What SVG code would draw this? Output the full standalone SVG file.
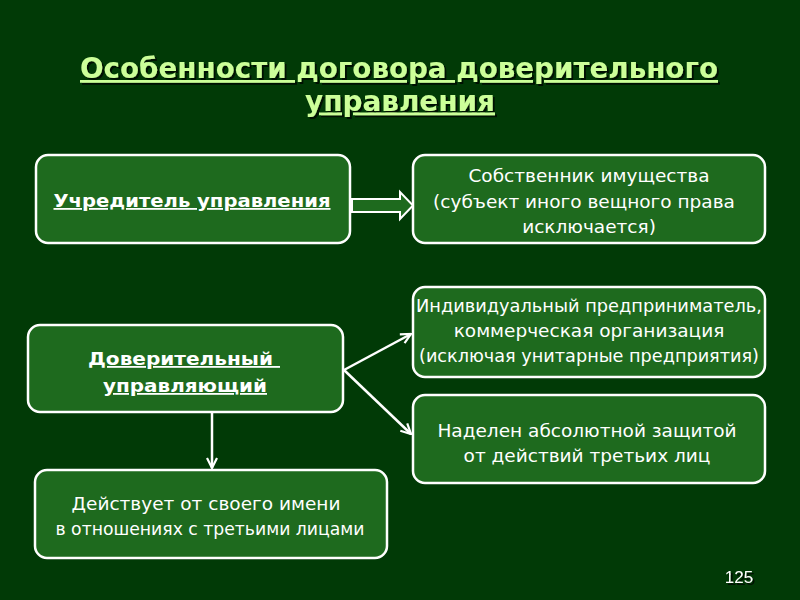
<svg xmlns="http://www.w3.org/2000/svg" width="800" height="600" viewBox="0 0 800 600">
<style>
.box{fill:#1e6a1e;stroke:#ffffff;stroke-width:2.5}
.t{font-family:"DejaVu Sans","Liberation Sans",sans-serif;font-size:18.5px;fill:#ffffff;text-anchor:middle}
.b{font-family:"DejaVu Sans","Liberation Sans",sans-serif;font-size:18px;font-weight:bold;fill:#ffffff;text-anchor:middle;text-decoration:underline;text-decoration-skip-ink:none}
.ttl{font-family:"DejaVu Sans Condensed","DejaVu Sans",sans-serif;font-stretch:condensed;font-size:27.5px;font-weight:bold;fill:#ccff99;text-anchor:middle;text-decoration:underline;text-decoration-skip-ink:none}
.ln{stroke:#ffffff;stroke-width:2.5;fill:none}
</style>
<defs>
<filter id="sh" x="-5%" y="-20%" width="110%" height="150%">
<feDropShadow dx="2" dy="2" stdDeviation="0.6" flood-color="#000000" flood-opacity="0.7"/>
</filter>
<marker id="ah" viewBox="0 0 12 12" refX="11" refY="6" markerWidth="12" markerHeight="12" markerUnits="userSpaceOnUse" orient="auto">
<polyline points="1,1 11,6 1,11" fill="none" stroke="#ffffff" stroke-width="2.2"/>
</marker>
</defs>
<rect width="800" height="600" fill="#013a06"/>
<g id="title" filter="url(#sh)">
<text class="ttl" x="399" y="78" textLength="638" lengthAdjust="spacingAndGlyphs">Особенности договора доверительного</text>
<text class="ttl" x="400" y="110.5" textLength="190" lengthAdjust="spacingAndGlyphs">управления</text>
</g>
<g id="connectors">
<path d="M352,199 H400 V192 L413,205.5 L400,219 V212 H352 Z" fill="#1e6a1e" stroke="#ffffff" stroke-width="2"/>
<line class="ln" x1="344" y1="370" x2="411" y2="334" marker-end="url(#ah)"/>
<line class="ln" x1="344" y1="370" x2="411" y2="434" marker-end="url(#ah)"/>
<line class="ln" x1="212" y1="413" x2="212" y2="468" marker-end="url(#ah)"/>
</g>
<g id="n1">
<rect class="box" x="36" y="155" width="314" height="88" rx="12"/>
<text class="b" x="192" y="207" textLength="277" lengthAdjust="spacingAndGlyphs">Учредитель управления</text>
</g>
<g id="n2">
<rect class="box" x="413" y="155" width="352" height="88" rx="12"/>
<text class="t" x="589" y="182">Собственник имущества</text>
<text class="t" x="584" y="208">(субъект иного вещного права</text>
<text class="t" x="589" y="233">исключается)</text>
</g>
<g id="n3">
<rect class="box" x="28" y="325" width="315" height="87" rx="12"/>
<text class="b" x="184" y="365" textLength="192" lengthAdjust="spacingAndGlyphs" xml:space="preserve">Доверительный </text>
<text class="b" x="185" y="392" textLength="164" lengthAdjust="spacingAndGlyphs">управляющий</text>
</g>
<g id="n4">
<rect class="box" x="413" y="287" width="352" height="90" rx="12"/>
<text class="t" x="589" y="312" textLength="346" lengthAdjust="spacingAndGlyphs">Индивидуальный предприниматель,</text>
<text class="t" x="589" y="337">коммерческая организация</text>
<text class="t" x="589" y="362" textLength="340" lengthAdjust="spacingAndGlyphs">(исключая унитарные предприятия)</text>
</g>
<g id="n5">
<rect class="box" x="413" y="395" width="352" height="88" rx="12"/>
<text class="t" x="587" y="437">Наделен абсолютной защитой</text>
<text class="t" x="587" y="462">от действий третьих лиц</text>
</g>
<g id="n6">
<rect class="box" x="35" y="470" width="352" height="88" rx="12"/>
<text class="t" x="206" y="510">Действует от своего имени</text>
<text class="t" x="210" y="535" textLength="309" lengthAdjust="spacingAndGlyphs">в отношениях с третьими лицами</text>
</g>
<g id="page" filter="url(#sh)">
<text x="739" y="583" font-family="Liberation Sans,Arial,sans-serif" font-size="17" fill="#ffffff" text-anchor="middle">125</text>
</g>
</svg>
